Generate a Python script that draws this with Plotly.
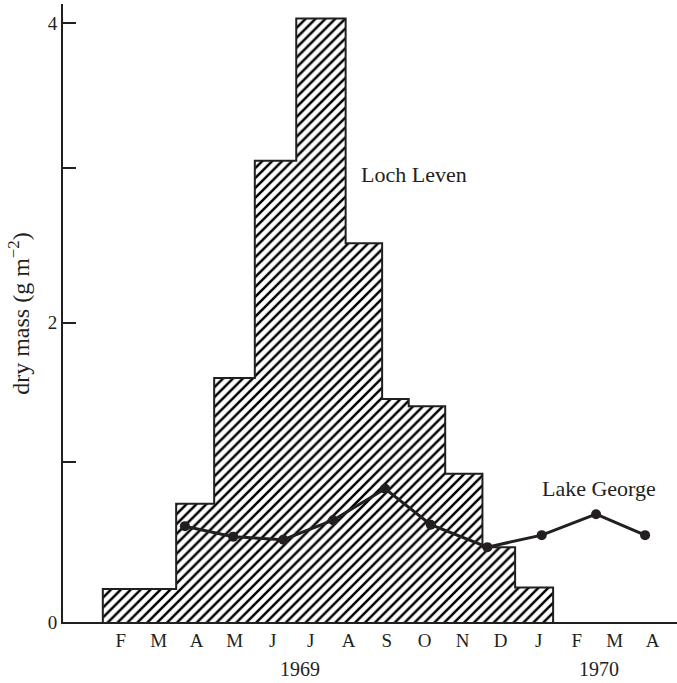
import plotly.graph_objects as go

# Loch Leven: sampling-period edges (months from Jan 1969) and dry mass (g m-2)
loch_edges = [0.53, 2.46, 3.46, 4.53, 5.62, 6.92, 7.88, 8.58, 9.54, 10.52, 11.38, 12.38]
loch_values = [0.22, 0.79, 1.63, 3.08, 4.03, 2.53, 1.49, 1.44, 0.99, 0.50, 0.23]

# Lake George: sampling times (months from Jan 1969) and dry mass (g m-2)
george_t = [2.69, 3.96, 5.28, 6.59, 7.96, 9.16, 10.65, 12.08, 13.51, 14.80]
george_values = [0.64, 0.57, 0.55, 0.68, 0.89, 0.65, 0.50, 0.58, 0.72, 0.58]

month_pos = list(range(1, 16))
month_labels = ["F", "M", "A", "M", "J", "J", "A", "S", "O", "N", "D", "J", "F", "M", "A"]
year_pos = [5.72, 13.59]
year_labels = ["1969", "1970"]

ytick_vals = [0, 2, 4]
ytick_text = ["0", "2", "4"]
yminor_vals = [1.07, 3.03]

INK = "#231f20"
FONT = "Liberation Serif"

# step outline polygon of the histogram
px, py = [loch_edges[0]], [0]
for i, v in enumerate(loch_values):
    px += [loch_edges[i], loch_edges[i + 1]]
    py += [v, v]
px.append(loch_edges[-1])
py.append(0)

fig = go.Figure()
fig.add_trace(go.Scatter(
    x=px, y=py, mode="lines", fill="toself",
    fillcolor="white",
    fillpattern=dict(shape="/", size=7, solidity=0.36, fgcolor="#000000", fgopacity=1,
                     bgcolor="white"),
    line=dict(color=INK, width=2), hoverinfo="skip", showlegend=False,
))
fig.add_trace(go.Scatter(
    x=george_t, y=george_values, mode="lines+markers",
    line=dict(color=INK, width=3),
    marker=dict(color=INK, size=10),
    showlegend=False,
))

fig.add_annotation(x=7.27, y=2.99, text="Loch Leven", showarrow=False,
                   xanchor="left", yanchor="middle", font=dict(family=FONT, size=22, color=INK))
fig.add_annotation(x=12.03, y=0.89, text="Lake George", showarrow=False,
                   xanchor="left", yanchor="middle", font=dict(family=FONT, size=22, color=INK))
for xp, lab in zip(year_pos, year_labels):
    fig.add_annotation(x=xp, xref="x", y=-0.076, yref="paper", text=lab, showarrow=False,
                       xanchor="center", yanchor="middle", font=dict(family=FONT, size=20, color=INK))
fig.add_annotation(x=-0.072, xref="paper", y=0.50, yref="paper",
                   text="dry mass (g m<sup>−2</sup>)", textangle=-90, showarrow=False,
                   xanchor="center", yanchor="middle", font=dict(family=FONT, size=24, color=INK))

fig.update_layout(
    width=677, height=683,
    margin=dict(l=63, r=0, t=4, b=61),
    plot_bgcolor="white", paper_bgcolor="white",
    font=dict(family=FONT, color=INK, size=19),
    hovermode=False,
    xaxis=dict(range=[-0.518, 15.64], tickvals=month_pos, ticktext=month_labels,
               showgrid=False, zeroline=False, showline=True, linecolor=INK, linewidth=2,
               ticks="", tickfont=dict(family=FONT, size=19, color=INK)),
    yaxis=dict(range=[0, 4.127], tickvals=ytick_vals, ticktext=ytick_text,
               showgrid=False, zeroline=False, showline=True, linecolor=INK, linewidth=2,
               ticks="inside", ticklen=13, tickwidth=2, tickcolor=INK,
               minor=dict(tickvals=yminor_vals, ticks="inside", ticklen=13, tickwidth=2,
                          tickcolor=INK, showgrid=False),
               tickfont=dict(family=FONT, size=19, color=INK)),
)

fig.write_html("out.html", config={"displayModeBar": False},
               post_script="document.body.style.margin='0';")
